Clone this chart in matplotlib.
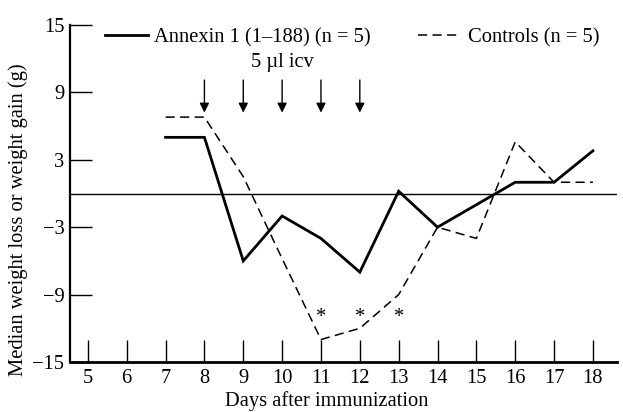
import matplotlib
matplotlib.use("Agg")
import matplotlib.pyplot as plt

days = [7, 8, 9, 10, 11, 12, 13, 14, 15, 16, 17, 18]
annexin = [5, 5, -6, -2, -4, -7, 0.2, -3, -1, 1, 1, 3.8]
controls = [6.8, 6.8, 1.5, -5.8, -13, -12, -9, -3, -4, 4.6, 1, 1]
arrow_days = [8, 9, 10, 11, 12]
star_days = [11, 12, 13]
xticks = list(range(5, 19))
yticks = [-15, -9, -3, 3, 9, 15]

plt.rcParams['font.family'] = ['Liberation Serif', 'DejaVu Serif']
FS = 14.8

fig = plt.figure(figsize=(6.23, 4.12), dpi=100)
ax = fig.add_axes([70/623, 50/412, 547/623, 337/412])

ax.plot(days, annexin, color='black', lw=2.0, solid_joinstyle='miter',
        label='Annexin 1 (1\u2013188) (n = 5)')
ax.plot(days, controls, color='black', lw=1.1, dashes=(6, 3.5),
        label='Controls (n = 5)')
ax.axhline(0, color='black', lw=1.0)

for d in arrow_days:
    ax.annotate('', xy=(d, 7.2), xytext=(d, 10.1),
                arrowprops=dict(arrowstyle='-|>', color='black', lw=1.0,
                                mutation_scale=14, shrinkA=0, shrinkB=0))
ax.text(10, 11.65, '5 \u00b5l icv', ha='center', va='center', fontsize=FS)
for d in star_days:
    ax.text(d, -11.0, '*', ha='center', va='center', fontsize=FS)

ax.set_xlim(4.54, 18.62)
ax.set_ylim(-15, 15)
ax.set_xticks(xticks)
ax.set_yticks(yticks)
ax.tick_params(axis='both', direction='in', length=16, width=1.0, labelsize=FS)
ax.tick_params(axis='x', pad=5)
ax.tick_params(axis='y', pad=4)
for s in ['top', 'right']:
    ax.spines[s].set_visible(False)
ax.spines['bottom'].set_linewidth(2.0)
ax.spines['left'].set_linewidth(1.6)

ax.set_xlabel('Days after immunization', fontsize=FS)
ax.xaxis.set_label_coords((327 - 70) / 547, -(401 - 362) / 337)
ax.xaxis.label.set_va('center')
ax.set_ylabel('Median weight loss or weight gain (g)', fontsize=FS)
ax.yaxis.set_label_coords((18 - 70) / 547, (362 - 220) / 337)
ax.yaxis.label.set_va('center')

ax.legend(loc='upper left', bbox_to_anchor=(35/547, 1.0 - 3/337), ncol=2, frameon=False,
          borderaxespad=0, borderpad=0,
          handlelength=2.1, handletextpad=0.3, columnspacing=2.3, fontsize=FS)

fig.savefig('out.png', dpi=100)
